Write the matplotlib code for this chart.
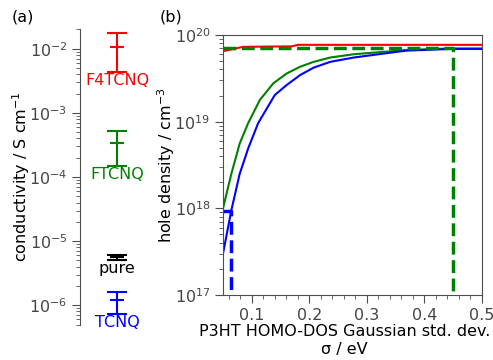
import numpy as np
import matplotlib
matplotlib.use("Agg")
import matplotlib.pyplot as plt
from matplotlib.ticker import MultipleLocator

# (a) conductivity of doped P3HT
dopants = ["F4TCNQ", "FTCNQ", "pure", "TCNQ"]
dopant_colors = ["#ff0000", "green", "black", "#0000ff"]
cond_mid = [1.05e-2, 3.4e-4, 5.6e-6, 1.2e-6]
cond_low = [4.4e-3, 1.5e-4, 5.1e-6, 7.4e-7]
cond_high = [1.78e-2, 5.3e-4, 6.0e-6, 1.58e-6]

# (b) hole density vs Gaussian DOS width
sigma_red = [0.05, 0.085, 0.17, 0.18, 0.5]
p_red = [6.5e19, 7.3e19, 7.4e19, 7.7e19, 7.7e19]

sigma_green = [0.05, 0.0645, 0.079, 0.0937, 0.114, 0.1374, 0.1607, 0.184,
               0.2074, 0.2364, 0.2774, 0.368, 0.444, 0.5]
p_green = [1.0e18, 2.5e18, 5.6e18, 9.6e18, 1.78e19, 2.77e19, 3.6e19, 4.3e19,
           4.9e19, 5.5e19, 6.0e19, 6.7e19, 7.0e19, 7.0e19]

sigma_blue = [0.05, 0.0645, 0.079, 0.0937, 0.111, 0.140, 0.1607, 0.184,
              0.2074, 0.2364, 0.2774, 0.368, 0.444, 0.5]
p_blue = [3.0e17, 9.5e17, 2.5e18, 4.9e18, 9.6e18, 2.03e19, 2.65e19, 3.45e19,
          4.2e19, 4.9e19, 5.5e19, 6.6e19, 6.9e19, 6.9e19]

# matching points (measured hole density -> sigma)
p_meas_blue = 9.4e17
sigma_meas_blue = 0.0645
p_meas_green = 7.1e19
sigma_meas_green = 0.45

plt.rcParams["font.size"] = 11.5

fig = plt.figure(figsize=(4.93, 3.6), dpi=100)

# ---- panel (a)
ax1 = fig.add_axes([80 / 493, 1 - 324.5 / 360, 74 / 493, 295 / 360])
for i in range(len(dopants)):
    lo = cond_mid[i] - cond_low[i]
    hi = cond_high[i] - cond_mid[i]
    ax1.errorbar([0], [cond_mid[i]], yerr=[[lo], [hi]], fmt="_",
                 color=dopant_colors[i], ms=10, mew=1.5, lw=1.5,
                 capsize=7, capthick=2)
    ax1.annotate(dopants[i], (0, cond_low[i]), xytext=(0, -1),
                 textcoords="offset points", ha="center", va="top",
                 color=dopant_colors[i])
ax1.set_yscale("log")
ax1.set_ylim(5e-7, 2e-2)
ax1.set_xlim(-1, 1)
ax1.set_xticks([])
for s in ["top", "right", "bottom"]:
    ax1.spines[s].set_visible(False)
ax1.spines["left"].set_color("0.3")
ax1.tick_params(axis="y", which="major", length=5.5, color="0.3", labelcolor="0.27")
ax1.tick_params(axis="y", which="minor", length=3, color="0.3")
ax1.set_ylabel("conductivity / S cm$^{-1}$", labelpad=-2)
fig.text(12 / 493, 1 - 17 / 360, "(a)", va="center")

# ---- panel (b)
ax2 = fig.add_axes([223 / 493, 1 - 295 / 360, 259 / 493, 260 / 360])
ax2.plot(sigma_red, p_red, color="#ff0000", lw=1.5)
ax2.plot(sigma_green, p_green, color="green", lw=1.5)
ax2.plot(sigma_blue, p_blue, color="#0000ff", lw=1.5)
ax2.plot([0.05, sigma_meas_green, sigma_meas_green], [p_meas_green, p_meas_green, 1e17],
         color="green", lw=2.5, ls="--")
ax2.plot([0.05, sigma_meas_blue, sigma_meas_blue], [p_meas_blue, p_meas_blue, 1e17],
         color="#0000ff", lw=2.5, ls="--")
ax2.set_yscale("log")
ax2.set_ylim(1e17, 1e20)
ax2.set_xlim(0.05, 0.5)
ax2.xaxis.set_major_locator(MultipleLocator(0.1))
ax2.xaxis.set_minor_locator(MultipleLocator(0.02))
for s in ax2.spines.values():
    s.set_color("0.3")
ax2.tick_params(which="major", length=5.5, color="0.3", labelcolor="0.27")
ax2.tick_params(which="minor", length=3, color="0.3")
ax2.set_ylabel("hole density / cm$^{-3}$", labelpad=-2)
ax2.set_xlabel("P3HT HOMO-DOS Gaussian std. dev.\nσ / eV", linespacing=1.3)
ax2.xaxis.set_label_coords(0.47, -0.11)
fig.text(160 / 493, 1 - 17 / 360, "(b)", va="center")

fig.savefig("out.png", dpi=100)
